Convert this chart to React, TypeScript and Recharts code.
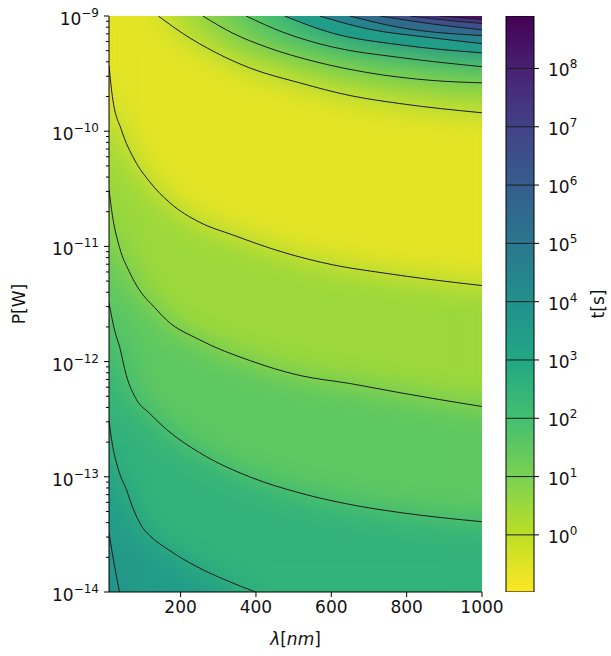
import { Area, Bar, ComposedChart, CartesianGrid, Label, Line, ReferenceLine, XAxis, YAxis } from "recharts";

// axis ticks
const LAMBDA_TICKS = [200, 400, 600, 800, 1000];
const P_EXPONENTS = [-14, -13, -12, -11, -10, -9];
const MINOR_MANTISSAS = [2, 3, 4, 5, 6, 7, 8, 9];
const T_EXPONENTS = [0, 1, 2, 3, 4, 5, 6, 7, 8];
const T_RANGE: [number, number] = [-0.98, 8.9]; // log10 t covered by the colour bar

// contour lines: [λ in nm, log10 P]
// upper family: t grows towards the top right corner
const UPPER_E0 = [[141, -9.0], [205, -9.15], [295, -9.32], [383, -9.45], [516, -9.58], [649, -9.69], [782, -9.76], [1000, -9.84]];
const UPPER_E1 = [[259, -9.0], [339, -9.15], [428, -9.27], [562, -9.4], [694, -9.49], [870, -9.56], [1000, -9.58]];
const UPPER_E2 = [[374, -9.0], [471, -9.14], [604, -9.27], [782, -9.36], [1000, -9.44]];
const UPPER_E3 = [[476, -9.0], [604, -9.15], [782, -9.25], [1000, -9.32]];
const UPPER_E4 = [[569, -9.0], [694, -9.11], [870, -9.19], [1000, -9.24]];
const UPPER_E5 = [[649, -9.0], [782, -9.1], [1000, -9.17]];
const UPPER_E6 = [[729, -9.0], [870, -9.07], [1000, -9.12]];
const UPPER_E7 = [[809, -9.0], [915, -9.04], [1000, -9.065]];
const UPPER_E8 = [[888, -9.0], [1000, -9.03]];

// lower family: t grows towards the bottom left corner
const LOWER_E0 = [[10, -9.43], [19, -9.7], [43, -9.99], [78, -10.25], [118, -10.44], [171, -10.62], [250, -10.79], [338, -10.9], [471, -11.05], [604, -11.16], [737, -11.23], [870, -11.29], [1000, -11.34]];
const LOWER_E1 = [[10, -10.51], [19, -10.73], [38, -11.01], [64, -11.22], [91, -11.38], [131, -11.53], [163, -11.64], [250, -11.81], [383, -11.99], [516, -12.12], [649, -12.19], [782, -12.27], [888, -12.33], [1000, -12.39]];
const LOWER_E2 = [[10, -11.49], [25, -11.73], [38, -11.87], [56, -12.12], [83, -12.33], [118, -12.45], [163, -12.59], [250, -12.79], [383, -13.0], [516, -13.14], [649, -13.24], [782, -13.31], [1000, -13.39]];
const LOWER_E3 = [[10, -12.51], [19, -12.72], [30, -12.88], [38, -12.97], [56, -13.11], [72, -13.26], [99, -13.44], [118, -13.51], [171, -13.64], [243, -13.78], [322, -13.9], [399, -14.0]];
const LOWER_E4 = [[10, -13.49], [25, -13.78], [38, -14.0]];

const VIRIDIS = ["#440154", "#482475", "#414487", "#355f8d", "#2a788e", "#21918c", "#22a884", "#44bf70", "#7ad151", "#bddf26", "#fde725"];

const FONT = "DejaVu Sans, Verdana, sans-serif";
const LINE = "#1c1c1c";

// plot box of the main axes, in page pixels
const W = 611;
const H = 656;
const BOX = { left: 109, top: 16, right: 482, bottom: 592 };

function viridis(f: number) {
  const x = Math.max(0, Math.min(1, f)) * (VIRIDIS.length - 1);
  const i = Math.min(VIRIDIS.length - 2, Math.floor(x));
  const k = x - i;
  const a = VIRIDIS[i], b = VIRIDIS[i + 1];
  const ch = (s: string, o: number) => parseInt(s.slice(o, o + 2), 16);
  const mix = (o: number) => Math.round(ch(a, o) + (ch(b, o) - ch(a, o)) * k).toString(16).padStart(2, "0");
  return `#${mix(1)}${mix(3)}${mix(5)}`;
}

// colour bar is viridis_r: small t yellow, large t purple
const tColor = (logT: number) => viridis(1 - (logT - T_RANGE[0]) / (T_RANGE[1] - T_RANGE[0]));
const VALLEY = tColor(-0.6);

const toPts = (rows: number[][]) => rows.map(([l, p]) => ({ l, p }));

const upperLines = [UPPER_E0, UPPER_E1, UPPER_E2, UPPER_E3, UPPER_E4, UPPER_E5, UPPER_E6, UPPER_E7, UPPER_E8];
const lowerLines = [LOWER_E0, LOWER_E1, LOWER_E2, LOWER_E3, LOWER_E4];
const allLines = [...upperLines, ...lowerLines];

const pTicks = P_EXPONENTS.flatMap((e) =>
  e === -9 ? [e] : [e, ...MINOR_MANTISSAS.map((m) => e + Math.log10(m))],
);

const cbData = [{ name: "t", range: T_RANGE }];

function Pow({ x, y, exp, anchor }: { x: number; y: number; exp: number; anchor: "start" | "middle" | "end" }) {
  return (
    <text x={x} y={y} textAnchor={anchor} fontFamily={FONT} fontSize={17} fill="#111">
      <tspan>10</tspan>
      <tspan dy={-8} fontSize={12}>
        {exp < 0 ? `\u2212${-exp}` : exp}
      </tspan>
    </text>
  );
}

function PTick(props: any) {
  const { x, y, payload } = props;
  const v = payload.value as number;
  const major = Math.abs(v - Math.round(v)) < 1e-6;
  if (!major) return <line x1={x - 3} x2={x} y1={y} y2={y} stroke="#000" strokeWidth={1} />;
  return (
    <g>
      <line x1={x - 5} x2={x} y1={y} y2={y} stroke="#000" strokeWidth={1} />
      <Pow x={x - 10} y={y + 9} exp={Math.round(v)} anchor="end" />
    </g>
  );
}

function LambdaTick(props: any) {
  const { x, y, payload } = props;
  return (
    <g>
      <line x1={x} x2={x} y1={y} y2={y + 5} stroke="#000" strokeWidth={1} />
      <text x={x} y={y + 21} textAnchor="middle" fontFamily={FONT} fontSize={17} fill="#111">
        {payload.value}
      </text>
    </g>
  );
}

function CbTick(props: any) {
  const { x, y, payload } = props;
  return (
    <g>
      <line x1={x} x2={x + 5} y1={y} y2={y} stroke="#000" strokeWidth={1} />
      <Pow x={x + 14} y={y + 8} exp={payload.value} anchor="start" />
    </g>
  );
}

// filled contour bands only (no axes); layered under the axes chart
function BandFill({ upperFrom = 0, lower = true, ground = true }: { upperFrom?: number; lower?: boolean; ground?: boolean }) {
  return (
    <ComposedChart
      width={W}
      height={H}
      margin={{ top: BOX.top, right: W - BOX.right, bottom: H - BOX.bottom, left: BOX.left }}
    >
      {ground && <CartesianGrid fill={VALLEY} horizontal={false} vertical={false} />}
      <XAxis type="number" dataKey="l" domain={[10, 1000]} allowDataOverflow hide />
      <YAxis type="number" dataKey="p" domain={[-14, -9]} allowDataOverflow hide />
      {upperLines.map((rows, i) =>
        i < upperFrom ? null : (
          <Area
            key={`u${i}`}
            data={toPts(rows)}
            dataKey="p"
            type="monotone"
            baseValue={-9}
            fill={tColor(i === 8 ? 8.45 : i + 0.5)}
            fillOpacity={1}
            stroke="none"
            dot={false}
            activeDot={false}
            isAnimationActive={false}
          />
        ),
      )}
      {lower &&
        lowerLines.map((rows, i) => (
          <Area
            key={`l${i}`}
            data={toPts(rows)}
            dataKey="p"
            type="monotone"
            baseValue={-14}
            fill={tColor(i === 4 ? 4.3 : i + 0.5)}
            fillOpacity={1}
            stroke="none"
            dot={false}
            activeDot={false}
            isAnimationActive={false}
          />
        ))}
    </ComposedChart>
  );
}

export default function App() {
  return (
    <div style={{ position: "absolute", left: 0, top: 0, width: W, height: H, background: "#fff", fontFamily: FONT }}>
      {/* blur that renormalises alpha, so the plot edges keep their own colour */}
      <svg width={0} height={0} style={{ position: "absolute" }}>
        <defs>
          <filter id="normBlur" x="-20%" y="-20%" width="140%" height="140%" colorInterpolationFilters="sRGB">
            <feGaussianBlur stdDeviation={15} />
            <feComponentTransfer>
              <feFuncA type="linear" slope={1000} intercept={0} />
            </feComponentTransfer>
          </filter>
        </defs>
      </svg>
      <div style={{ position: "absolute", left: 0, top: 0 }}>
        <BandFill />
      </div>
      <div
        style={{
          position: "absolute",
          left: BOX.left,
          top: BOX.top,
          width: BOX.right - BOX.left,
          height: BOX.bottom - BOX.top,
          overflow: "hidden",
        }}
      >
        <div style={{ position: "absolute", left: -BOX.left, top: -BOX.top, filter: "url(#normBlur)" }}>
          <BandFill />
        </div>
      </div>
      {/* the thin bands in the top right corner stay sharp */}
      <div style={{ position: "absolute", left: 0, top: 0 }}>
        <BandFill upperFrom={3} lower={false} ground={false} />
      </div>
      <div style={{ position: "absolute", left: 0, top: 0 }}>
        <ComposedChart width={W} height={H} margin={{ top: BOX.top, right: W - BOX.right, bottom: 24, left: 9 }}>
          <XAxis
            type="number"
            dataKey="l"
            domain={[10, 1000]}
            ticks={LAMBDA_TICKS}
            allowDataOverflow
            interval={0}
            height={40}
            tickSize={0}
            tickMargin={0}
            tickLine={false}
            tick={<LambdaTick />}
            axisLine={{ stroke: "#000" }}
          >
            <Label
              content={({ viewBox }: any) => (
                <text x={viewBox.x + viewBox.width / 2} y={viewBox.y + 53} textAnchor="middle" fontFamily={FONT} fontSize={17} fill="#111">
                  <tspan fontStyle="italic">λ</tspan>
                  <tspan>[</tspan>
                  <tspan fontStyle="italic">nm</tspan>
                  <tspan>]</tspan>
                </text>
              )}
            />
          </XAxis>
          <YAxis
            type="number"
            dataKey="p"
            domain={[-14, -9]}
            ticks={pTicks}
            allowDataOverflow
            interval={0}
            width={100}
            tickSize={0}
            tickMargin={0}
            tickLine={false}
            tick={<PTick />}
            axisLine={{ stroke: "#000" }}
          >
            <Label
              content={({ viewBox }: any) => {
                const cy = viewBox.y + viewBox.height / 2;
                return (
                  <text x={19} y={cy} transform={`rotate(-90 19 ${cy})`} textAnchor="middle" dominantBaseline="central" fontFamily={FONT} fontSize={17} fill="#111">
                    P[W]
                  </text>
                );
              }}
            />
          </YAxis>
          <XAxis xAxisId="top" orientation="top" type="number" domain={[10, 1000]} allowDataOverflow height={0} tick={false} tickLine={false} axisLine={{ stroke: "#000" }} />
          <YAxis yAxisId="right" orientation="right" type="number" domain={[-14, -9]} allowDataOverflow width={0} tick={false} tickLine={false} axisLine={{ stroke: "#000" }} />
          {allLines.map((rows, i) => (
            <Line
              key={`c${i}`}
              data={toPts(rows)}
              dataKey="p"
              type="monotone"
              stroke={LINE}
              strokeWidth={1}
              dot={false}
              activeDot={false}
              isAnimationActive={false}
            />
          ))}
        </ComposedChart>
      </div>
      <div style={{ position: "absolute", left: 490, top: 0 }}>
        <ComposedChart width={121} height={H} data={cbData} margin={{ top: 16, right: 27, bottom: 64, left: 16 }} barCategoryGap={0}>
          <defs>
            <linearGradient id="viridisBar" x1="0" y1="0" x2="0" y2="1">
              {VIRIDIS.map((c, i) => (
                <stop key={c} offset={`${(i / (VIRIDIS.length - 1)) * 100}%`} stopColor={c} />
              ))}
            </linearGradient>
          </defs>
          <XAxis dataKey="name" type="category" hide />
          <YAxis
            orientation="right"
            type="number"
            domain={T_RANGE}
            ticks={T_EXPONENTS}
            allowDataOverflow
            interval={0}
            width={50}
            tickSize={0}
            tickMargin={0}
            tickLine={false}
            axisLine={false}
            tick={<CbTick />}
          >
            <Label
              content={({ viewBox }: any) => {
                const cy = viewBox.y + viewBox.height / 2;
                return (
                  <text x={108} y={cy} transform={`rotate(-90 108 ${cy})`} textAnchor="middle" dominantBaseline="central" fontFamily={FONT} fontSize={17} fill="#111">
                    t[s]
                  </text>
                );
              }}
            />
          </YAxis>
          <Bar dataKey="range" fill="url(#viridisBar)" stroke="#000" strokeWidth={1} isAnimationActive={false} />
          {T_EXPONENTS.map((e) => (
            <ReferenceLine key={e} y={e} stroke={LINE} strokeWidth={1} />
          ))}
        </ComposedChart>
      </div>
    </div>
  );
}
